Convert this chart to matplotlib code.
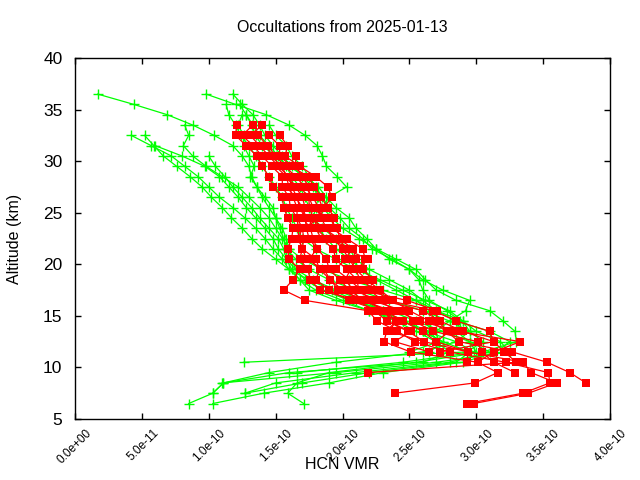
import numpy as np
import matplotlib
matplotlib.use("Agg")
import matplotlib.pyplot as plt
from matplotlib.transforms import ScaledTranslation

plt.rcParams['font.family'] = ['Liberation Sans', 'DejaVu Sans']

# HCN VMR profiles, values in units of 1e-10, one value per 1 km level
# starting at the given top altitude and going down
green_top = [36.5, 36.5, 36.5, 32.5, 32.5, 33.5, 35.5, 35.5, 34.5, 31.5, 34.5, 33.5, 30.5]
green_vmr = [
    [0.17, 0.44, 0.69, 0.88, 1.04, 1.18, 1.25, 1.30, 1.32, 1.36, 1.40, 1.45, 1.50, 1.53,
     1.56, 1.58, 1.65, 1.75, 1.90, 2.10, 2.35, 2.60, 2.80, 2.95, 3.05, 2.93, 1.26],
    [0.98, 1.20, 1.43, 1.60, 1.72, 1.81, 1.85, 1.88, 1.96, 2.03, 1.90, 1.85, 1.92, 2.00,
     2.12, 2.25, 2.40, 2.55, 2.62, 2.70, 2.85, 3.10, 3.20, 3.29, 3.30, 3.05, 2.55, 1.90,
     1.66, 1.59, 1.71],
    [1.18, 1.25, 1.33, 1.38, 1.42, 1.48, 1.55, 1.62, 1.70, 1.78, 1.82, 1.80, 1.78, 1.85,
     1.95, 2.05, 2.10, 2.20, 2.35, 2.50, 2.60, 2.70, 2.85, 3.10, 3.25, 3.15, 2.90, 2.30,
     1.90, 1.41, 1.03],
    [0.42, 0.57, 0.72, 0.82, 0.92, 1.00, 1.08, 1.18, 1.27, 1.35, 1.42, 1.48, 1.55, 1.60,
     1.68, 1.80, 2.00, 2.20, 2.40, 2.55, 2.70, 2.80, 2.60, 1.60, 1.11, 1.03, 0.85],
    [0.52, 0.59, 0.66, 0.76, 0.86, 0.95, 1.02, 1.10, 1.17, 1.25, 1.32, 1.40, 1.50, 1.60,
     1.75, 1.92, 2.10, 2.30, 2.45, 2.60, 2.75, 2.95, 2.85, 2.20, 1.70, 1.27],
    [0.82, 0.85, 0.81, 0.88, 0.98, 1.10, 1.22, 1.30, 1.38, 1.45, 1.50, 1.55, 1.60, 1.70,
     1.85, 2.05, 2.30, 2.55, 2.65, 2.70, 2.60, 2.75, 2.65],
    [1.13, 1.15, 1.20, 1.24, 1.30, 1.35, 1.40, 1.45, 1.50, 1.55, 1.58, 1.62, 1.66, 1.70,
     1.80, 1.95, 2.10, 2.28, 2.45, 2.62, 2.80, 2.90, 2.95, 2.85, 2.60, 1.95, 1.45, 1.11,
     1.03],
    [1.23, 1.28, 1.32, 1.35, 1.40, 1.50, 1.60, 1.72, 1.82, 1.88, 1.95, 2.05, 2.10, 2.18,
     2.25, 2.35, 2.50, 2.60, 2.75, 2.95, 2.92, 2.80, 2.70, 2.72, 2.50],
    [1.28, 1.33, 1.38, 1.45, 1.52, 1.58, 1.62, 1.68, 1.72, 1.75, 1.78, 1.82, 1.88, 1.95,
     2.05, 2.15, 2.25, 2.40, 2.55, 2.70, 2.90, 3.00, 3.18, 3.25, 2.70, 1.95, 1.10],
    [0.60, 0.80, 0.97, 1.08, 1.15, 1.22, 1.28, 1.35, 1.42, 1.48, 1.52, 1.58, 1.65, 1.78,
     1.95, 2.15, 2.30, 2.45, 2.62, 2.85, 2.98],
    [1.25, 1.22, 1.26, 1.26, 1.30, 1.34, 1.31, 1.36, 1.42, 1.48, 1.50, 1.55, 1.58, 1.60,
     1.62, 1.65, 1.72, 1.85, 2.05, 2.35, 2.55, 2.75, 2.95, 3.00, 2.45, 1.66],
    [1.45, 1.50, 1.58, 1.62, 1.70, 1.75, 1.80, 1.85, 1.90, 1.98, 2.05, 2.15, 2.22, 2.37,
     2.50, 2.57, 2.60, 2.65, 2.78, 2.88, 2.85, 2.95, 3.10, 2.80, 2.10, 1.50, 1.27],
    [1.00, 1.05, 1.12, 1.18, 1.25, 1.32, 1.38, 1.45, 1.52, 1.56, 1.58, 1.62, 1.68, 1.75,
     1.95, 2.20, 2.45, 2.65, 2.72],
]

red_top = [33.5, 33.5, 33.5, 32.5, 32.5, 32.5, 31.5, 30.5, 29.5, 28.5, 27.5, 26.5]
red_vmr = [
    [1.21, 1.20, 1.28, 1.36, 1.40, 1.45, 1.48, 1.55, 1.56, 1.59, 1.63, 1.62, 1.59, 1.60,
     1.68, 1.63, 1.56, 1.72, 2.19, 2.26, 2.41, 2.54, 2.80, 3.22, 3.54, 3.55, 3.35, 2.93],
    [1.33, 1.25, 1.33, 1.40, 1.47, 1.55, 1.55, 1.60, 1.61, 1.66, 1.67, 1.67, 1.70, 1.68,
     1.74, 1.76, 1.83, 2.11, 2.24, 2.33, 2.49, 2.61, 2.94, 3.35, 3.41, 3.60, 3.39, 2.98],
    [1.40, 1.31, 1.38, 1.45, 1.52, 1.60, 1.62, 1.66, 1.68, 1.72, 1.73, 1.75, 1.81, 1.75,
     1.83, 1.91, 1.97, 2.18, 2.32, 2.40, 2.33, 2.31, 2.51, 3.01, 3.16, 2.99, 2.39],
    [1.37, 1.44, 1.50, 1.57, 1.65, 1.72, 1.78, 1.82, 1.84, 1.88, 1.93, 2.00, 2.05, 2.10,
     2.18, 2.28, 2.38, 2.50, 2.65, 2.78, 2.87, 3.27, 3.53, 3.70, 3.82],
    [1.45, 1.53, 1.53, 1.62, 1.74, 1.79, 1.84, 1.89, 1.94, 1.92, 2.03, 2.15, 2.17, 2.15,
     2.23, 2.20, 2.30, 2.60, 2.73, 2.90, 3.13, 3.21, 3.30, 2.19],
    [1.53, 1.59, 1.57, 1.68, 1.80, 1.89, 1.92, 1.86, 1.80, 1.80, 1.84, 1.93, 1.95, 2.03,
     2.11, 2.12, 2.22, 2.45, 2.53, 2.68, 3.01, 3.04, 3.13, 3.29],
    [1.44, 1.46, 1.55, 1.58, 1.65, 1.70, 1.72, 1.70, 1.76, 1.78, 1.81, 1.88, 1.90, 1.98,
     2.05, 2.16, 2.32, 2.45, 2.60, 2.70, 2.94, 2.93],
    [1.65, 1.65, 1.70, 1.75, 1.75, 1.78, 1.76, 1.86, 1.97, 2.08, 2.10, 2.06, 2.02, 2.08,
     2.27, 2.40, 2.58, 2.86, 3.33, 3.13, 3.01],
    [1.50, 1.58, 1.60, 1.63, 1.66, 1.66, 1.70, 1.71, 1.70, 1.73, 1.86, 1.91, 2.00, 2.15,
     2.36, 2.33, 2.51, 2.39, 2.65],
    [1.55, 1.68, 1.75, 1.75, 1.90, 1.96, 1.98, 2.02, 2.19, 2.10, 2.13, 2.25, 2.34, 2.68,
     2.85, 3.10, 3.13, 2.73],
    [1.58, 1.65, 1.70, 1.73, 1.80, 1.88, 2.07, 2.02, 1.95, 2.05, 2.14, 2.48, 2.71, 2.70,
     2.80, 2.70],
    [1.82, 1.85, 1.84, 1.70, 1.67, 1.70, 1.80, 1.83, 1.80, 1.90, 2.05, 2.28, 2.40, 2.35,
     2.61],
]

xticks = [0.0, 0.5e-10, 1.0e-10, 1.5e-10, 2.0e-10, 2.5e-10, 3.0e-10, 3.5e-10, 4.0e-10]
xtick_labels = ["0.0e+00", "5.0e-11", "1.0e-10", "1.5e-10", "2.0e-10",
                "2.5e-10", "3.0e-10", "3.5e-10", "4.0e-10"]
yticks = [5, 10, 15, 20, 25, 30, 35, 40]

fig = plt.figure(figsize=(6.4, 4.8), dpi=100)
ax = fig.add_axes([75 / 640, 1 - 419 / 480, 535 / 640, 361 / 480])

for top, vals in zip(green_top, green_vmr):
    alt = top - np.arange(len(vals))
    ax.plot(np.array(vals) * 1e-10, alt, color="#00ff00", lw=0.9,
            marker="+", ms=7, mew=1.0, zorder=2)

for top, vals in zip(red_top, red_vmr):
    alt = top - np.arange(len(vals))
    ax.plot(np.array(vals) * 1e-10, alt, color="#ff0000", lw=0.9,
            marker="s", ms=6.1, mew=0, zorder=3)

ax.set_xlim(0, 4e-10)
ax.set_ylim(5, 40)
ax.set_xticks(xticks)
ax.set_yticks(yticks)
ax.tick_params(axis="both", direction="in", length=4.5, width=1,
               top=True, right=True)
ax.tick_params(axis="x", pad=9)
ax.tick_params(axis="y", labelsize=12.5, pad=9)
ax.set_xticklabels(xtick_labels, rotation=45, ha="right", va="center",
                   rotation_mode="anchor", fontsize=8.5)
# gnuplot puts the rotated label ends a bit to the right of the tick
shift = ScaledTranslation(0.15, 0, fig.dpi_scale_trans)
for lab in ax.get_xticklabels():
    lab.set_transform(lab.get_transform() + shift)
for s in ax.spines.values():
    s.set_linewidth(1.0)

ax.set_title("Occultations from 2025-01-13", fontsize=11.5, pad=19)
ax.set_xlabel("HCN VMR", fontsize=11.5)
ax.set_ylabel("Altitude (km)", fontsize=11.5)
ax.xaxis.set_label_coords(0.5, -0.105)
ax.yaxis.set_label_coords(-0.099, 0.5)

fig.savefig("out.png", dpi=100)
